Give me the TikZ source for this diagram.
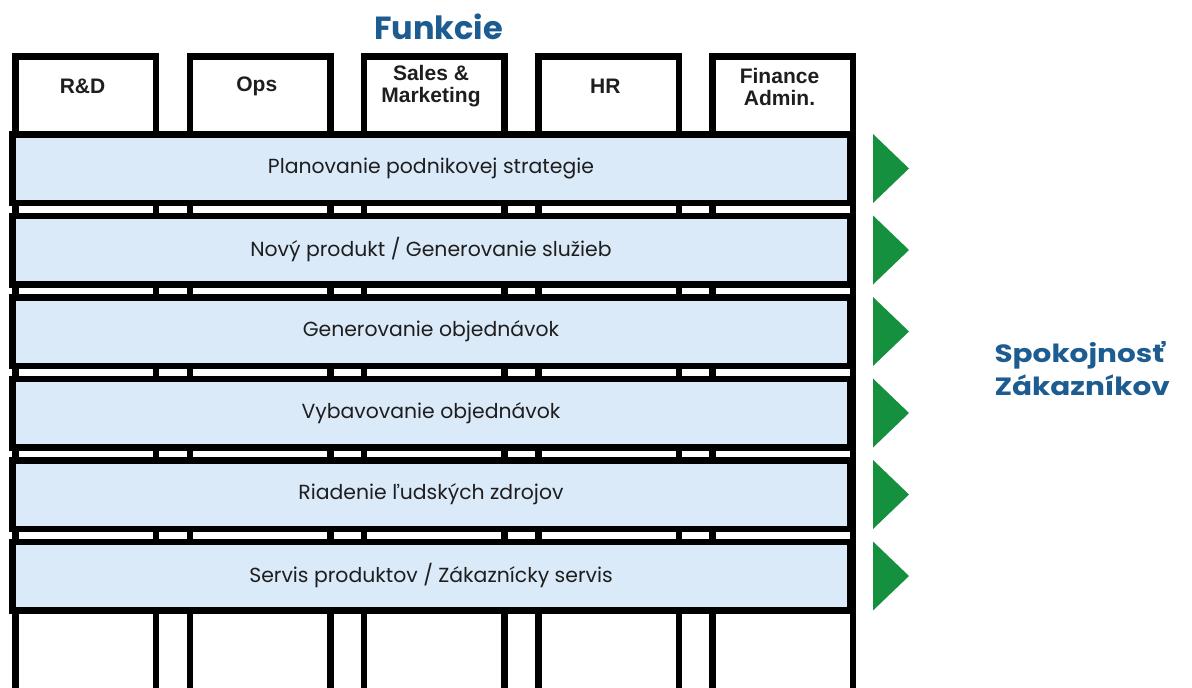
\documentclass[tikz,border=0pt]{standalone}
\usepackage{fontspec}
\usetikzlibrary{calc}
\setmainfont{Poppins}
\newfontfamily\headfont{Liberation Sans}
\newfontfamily\widefont[FakeStretch=1.18]{Poppins}
\definecolor{bandblue}{RGB}{219,234,249}
\definecolor{titleblue}{RGB}{28,92,145}
\definecolor{arrowgreen}{RGB}{20,144,62}
\definecolor{ink}{RGB}{30,30,30}

\begin{document}
\begin{tikzpicture}[x=1pt,y=-1pt,
  column/.style={draw=black, line width=6.5pt, fill=white, inner sep=0pt,
    minimum width=140.5pt, minimum height=670pt, anchor=north west},
  headlabel/.style={text=ink, align=center,
    font=\headfont\bfseries\fontsize{21pt}{22pt}\selectfont},
  band/.style={draw=black, line width=6.5pt, fill=bandblue, inner sep=0pt,
    minimum width=837.5pt, minimum height=68.5pt, text=ink,
    font=\fontsize{20.4pt}{23pt}\selectfont},
  bigtitle/.style={text=titleblue, anchor=base,
    font=\bfseries\fontsize{32pt}{35pt}\selectfont},
  sidetitle/.style={text=titleblue, anchor=base west,
    font=\widefont\bfseries\fontsize{25pt}{30pt}\selectfont},
  flowarrow/.style={fill=arrowgreen}]
\useasboundingbox (0,0) rectangle (1192,688);
\clip (0,0) rectangle (1192,688);

% function columns with their headings
\foreach \i/\lbl in {1/{R\&D}, 2/{Ops}, 3/{Sales \&\\Marketing}, 4/{HR}, 5/{Finance\\Admin.}} {
  \node[column] (c\i) at ({12.25+174.25*(\i-1)},53.25) {};
  \node[headlabel] (h\i) at ({82.5+174.25*(\i-1)},86.5) {\lbl};
}

% cross-functional processes
\foreach \i/\txt in {1/{Planovanie podnikovej strategie},
                     2/{Nový produkt / Generovanie služieb},
                     3/{Generovanie objednávok},
                     4/{Vybavovanie objednávok},
                     5/{Riadenie ľudských zdrojov},
                     6/{Servis produktov / Zákaznícky servis}} {
  \node[band] (b\i) at (431,{168.5+81.5*(\i-1)}) {\txt};
  \fill[flowarrow] ($(b\i.center)+(442,-34.5)$) -- ($(b\i.center)+(478,0)$)
        -- ($(b\i.center)+(442,34.5)$) -- cycle;
}

\node[bigtitle] (title) at (438.5,39) {Funkcie};
\node[sidetitle] (sat1) at (991,362) {Spokojnosť};
\node[sidetitle] (sat2) at (991,395) {Zákazníkov};
\end{tikzpicture}
\end{document}
